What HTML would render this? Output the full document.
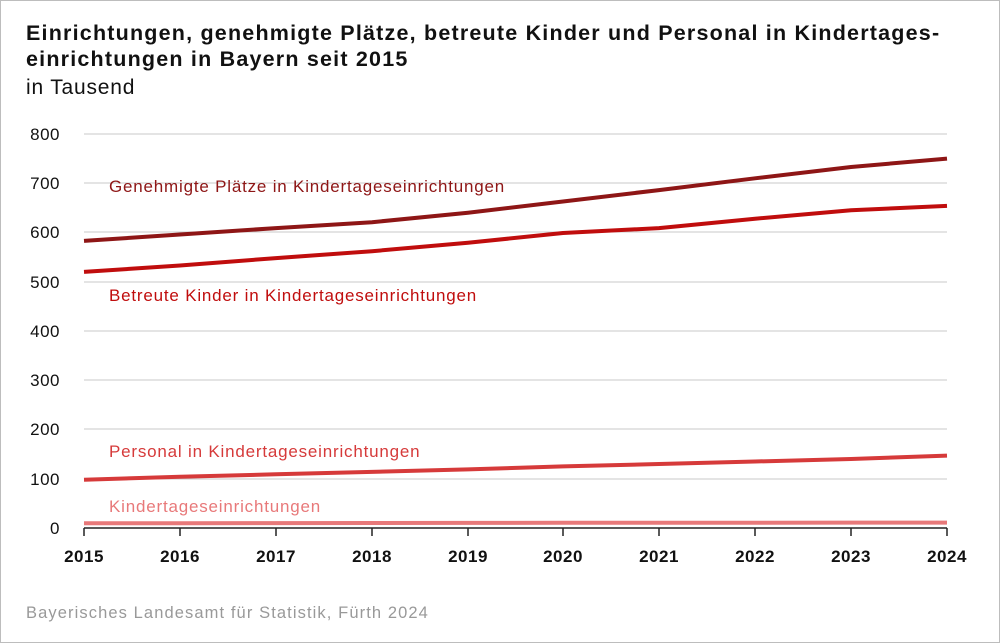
<!DOCTYPE html>
<html><head><meta charset="utf-8"><style>
html,body{margin:0;padding:0;background:#fff;}
body{width:1000px;height:643px;position:relative;overflow:hidden;font-family:"Liberation Sans",Arial,sans-serif;}
.frame{position:absolute;left:0;top:0;width:998px;height:641px;border:1px solid #bdbdbd;}
.t{position:absolute;left:26px;top:20px;font-size:21.5px;font-weight:bold;line-height:26px;color:#111;letter-spacing:1.2px;white-space:nowrap;}
.s{position:absolute;left:26px;top:76px;font-size:21px;color:#111;letter-spacing:0.8px;}
.f{position:absolute;left:26px;top:604px;font-size:16.5px;color:#999;letter-spacing:1.1px;}
</style></head><body>
<div class="frame"></div>
<div class="t">Einrichtungen, genehmigte Plätze, betreute Kinder und Personal in Kindertages-<br>einrichtungen in Bayern seit 2015</div>
<div class="s">in Tausend</div>
<svg width="1000" height="643" style="position:absolute;left:0;top:0" font-family="Liberation Sans, Arial, sans-serif">
<g stroke="#c8c8c8" stroke-width="1">
<line x1="84" x2="947" y1="134" y2="134"/><line x1="84" x2="947" y1="183" y2="183"/>
<line x1="84" x2="947" y1="232" y2="232"/><line x1="84" x2="947" y1="282" y2="282"/>
<line x1="84" x2="947" y1="331" y2="331"/><line x1="84" x2="947" y1="380" y2="380"/>
<line x1="84" x2="947" y1="429" y2="429"/><line x1="84" x2="947" y1="479" y2="479"/>
</g>
<line x1="84" x2="947" y1="528" y2="528" stroke="#222" stroke-width="1.5"/>
<g stroke="#222" stroke-width="1.5">
<line x1="84" x2="84" y1="528" y2="536"/><line x1="180" x2="180" y1="528" y2="536"/><line x1="276" x2="276" y1="528" y2="536"/><line x1="372" x2="372" y1="528" y2="536"/><line x1="468" x2="468" y1="528" y2="536"/><line x1="563" x2="563" y1="528" y2="536"/><line x1="659" x2="659" y1="528" y2="536"/><line x1="755" x2="755" y1="528" y2="536"/><line x1="851" x2="851" y1="528" y2="536"/><line x1="947" x2="947" y1="528" y2="536"/>
</g>
<g font-size="17" fill="#111" text-anchor="end" letter-spacing="0.5">
<text x="60" y="140">800</text><text x="60" y="189">700</text><text x="60" y="238">600</text><text x="60" y="288">500</text><text x="60" y="337">400</text><text x="60" y="386">300</text><text x="60" y="435">200</text><text x="60" y="485">100</text><text x="60" y="534">0</text>
</g>
<g font-size="17" font-weight="bold" fill="#111" text-anchor="middle" letter-spacing="0.5">
<text x="84" y="562">2015</text><text x="180" y="562">2016</text><text x="276" y="562">2017</text><text x="372" y="562">2018</text><text x="468" y="562">2019</text><text x="563" y="562">2020</text><text x="659" y="562">2021</text><text x="755" y="562">2022</text><text x="851" y="562">2023</text><text x="947" y="562">2024</text>
</g>
<g fill="none" stroke-width="4" stroke-linejoin="round">
<polyline stroke="#e8797a" points="84,523.3 180,523.2 276,523.1 372,523 468,522.9 563,522.8 659,522.8 755,522.7 851,522.6 947,522.6"/>
<polyline stroke="#d63a3a" points="84,479.7 180,476.8 276,474.3 372,471.9 468,469.4 563,466.4 659,464 755,461.5 851,459 947,455.6"/>
<polyline stroke="#c00d0d" points="84,271.9 180,265.5 276,258.1 372,251.2 468,242.8 563,233 659,228.1 755,218.7 851,210.3 947,205.9"/>
<polyline stroke="#8e1616" points="84,240.9 180,234.5 276,228.1 372,222.2 468,212.8 563,201.5 659,190.1 755,178.3 851,167 947,158.6"/>
</g>
<g font-size="17" letter-spacing="0.8">
<text x="109" y="192" fill="#8e1616">Genehmigte Plätze in Kindertageseinrichtungen</text>
<text x="109" y="301" fill="#c00d0d">Betreute Kinder in Kindertageseinrichtungen</text>
<text x="109" y="457" fill="#d63a3a">Personal in Kindertageseinrichtungen</text>
<text x="109" y="512" fill="#e8797a">Kindertageseinrichtungen</text>
</g>
</svg>
<div class="f">Bayerisches Landesamt für Statistik, Fürth 2024</div>
</body></html>
